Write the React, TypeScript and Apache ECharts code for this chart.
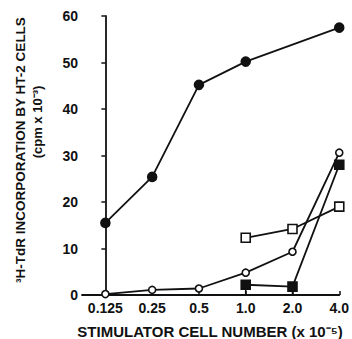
import React, { useEffect, useRef } from "react";
import * as echarts from "echarts";

const categories = ["0.125", "0.25", "0.5", "1.0", "2.0", "4.0"];
const filledCircles = [15.5, 25.4, 45.2, 50.2, null, 57.5];
const openCircles = [0.2, 1.1, 1.4, 4.8, 9.3, 30.6];
const openSquares = [null, null, null, 12.3, 14.2, 19.0];
const filledSquares = [null, null, null, 2.2, 1.8, 28.0];
const filledSquaresLow = [null, null, null, 0, 0, null];
const yTicks = [0, 10, 20, 30, 40, 50, 60];

const toPairs = (arr: (number | null)[]) =>
  arr.map((v, i) => (v === null ? null : [i, v])).filter((p) => p !== null);

export default function App() {
  const ref = useRef<HTMLDivElement>(null);
  useEffect(() => {
    if (!ref.current) return;
    const chart = echarts.init(ref.current, undefined, { renderer: "svg" });
    const font = "'Liberation Sans', Arial, sans-serif";
    const lineStyle = { color: "#111", width: 1.8 };
    const mk = (name: string, data: any[], symbol: string, size: number, filled: boolean) => ({
      name,
      type: "line",
      data,
      symbol,
      symbolSize: size,
      showAllSymbol: true,
      connectNulls: false,
      lineStyle,
      itemStyle: { color: filled ? "#111" : "#fff", borderColor: "#111", borderWidth: 1.6 },
      z: filled ? 3 : 4,
    });
    const errData = filledSquares
      .map((v, i) => (v === null || filledSquaresLow[i] === null ? null : [i, filledSquaresLow[i], v]))
      .filter((p) => p !== null);
    chart.setOption({
      animation: false,
      backgroundColor: "#fff",
      grid: { left: 82, top: 16, right: 10, bottom: 44 },
      xAxis: {
        type: "value",
        min: -0.5,
        max: 5,
        splitLine: { show: false },
        axisLine: { lineStyle: { color: "#111", width: 1.8 } },
        axisTick: { customValues: [0, 1, 2, 3, 4, 5], length: 4, inside: true, lineStyle: { color: "#111", width: 1.5 } },
        axisLabel: {
          customValues: [0, 1, 2, 3, 4, 5],
          formatter: (v: number) => categories[Math.round(v)] ?? "",
          color: "#111",
          fontFamily: font,
          fontWeight: "bold",
          fontSize: 14,
          margin: 6,
        },
      },
      yAxis: {
        type: "value",
        min: 0,
        max: 60,
        interval: 10,
        splitLine: { show: false },
        axisLine: { show: true, lineStyle: { color: "#111", width: 1.8 } },
        axisTick: { show: true, length: 4, lineStyle: { color: "#111", width: 1.5 } },
        axisLabel: {
          formatter: (v: number) => (yTicks.includes(v) ? String(v) : ""),
          color: "#111",
          fontFamily: font,
          fontWeight: "bold",
          fontSize: 14,
          margin: 4,
        },
      },
      series: [
        {
          type: "custom",
          data: errData,
          z: 2,
          renderItem: (params: any, api: any) => {
            const p1 = api.coord([api.value(0), api.value(1)]);
            const p2 = api.coord([api.value(0), api.value(2)]);
            return {
              type: "line",
              shape: { x1: p1[0], y1: p1[1], x2: p2[0], y2: p2[1] },
              style: { stroke: "#111", lineWidth: 1.6 },
            };
          },
        },
        mk("filledCircles", toPairs(filledCircles), "circle", 9, true),
        mk("openCircles", toPairs(openCircles), "circle", 7, false),
        mk("openSquares", toPairs(openSquares), "rect", 9, false),
        mk("filledSquares", toPairs(filledSquares), "rect", 9, true),
      ],
      graphic: [
        {
          type: "text",
          x: 20,
          y: 150,
          rotation: Math.PI / 2,
          style: {
            text: "³H-TdR INCORPORATION BY HT-2 CELLS",
            font: `bold 13.5px ${font}`,
            fill: "#111",
            align: "center",
            verticalAlign: "middle",
          },
        },
        {
          type: "text",
          x: 37,
          y: 122,
          rotation: Math.PI / 2,
          style: {
            text: "(cpm x 10⁻³)",
            font: `bold 13px ${font}`,
            fill: "#111",
            align: "center",
            verticalAlign: "middle",
          },
        },
        {
          type: "text",
          x: 210,
          y: 331,
          style: {
            text: "STIMULATOR CELL NUMBER (x 10⁻⁵)",
            font: `bold 15px ${font}`,
            fill: "#111",
            align: "center",
            verticalAlign: "middle",
          },
        },
      ],
    });
    return () => chart.dispose();
  }, []);
  return <div ref={ref} style={{ width: 352, height: 339, position: "absolute", left: 0, top: 0 }} />;
}
